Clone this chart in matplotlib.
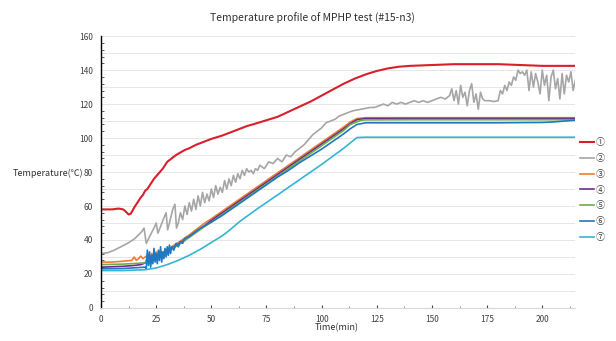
import numpy as np
import matplotlib.pyplot as plt
from matplotlib.ticker import MultipleLocator

plt.rcParams['font.family'] = ['Noto Sans CJK KR', 'DejaVu Sans']

# ① heater / evaporator (red)
t1 = [0, 5, 8, 10, 11, 12.5, 13.5, 15, 17, 18, 19, 20, 21, 22, 24, 26, 28, 30, 32, 34, 36, 38, 40,
      43, 46, 50, 55, 58, 62, 66, 70, 75, 80, 85, 90, 95, 100, 105, 110, 115, 120, 125, 130, 135,
      140, 150, 160, 170, 180, 190, 200, 210, 215]
T1 = [58, 58, 58.5, 58, 57, 55, 55.5, 59, 63, 65, 66.5, 69, 70, 72, 76, 79, 82, 86, 88, 90, 91.5, 93, 94,
      96, 97.5, 99.5, 101.5, 103, 105, 107, 108.5, 110.5, 112.5, 115.5, 118.5, 121.5, 125, 128.5, 132, 135,
      137.5, 139.5, 141, 142, 142.5, 143, 143.5, 143.5, 143.5, 143, 142.5, 142.5, 142.5]

# ② (gray, noisy)
t2 = [0, 3, 6, 9, 12, 15, 17, 18.5, 19.5, 20.5, 22, 24, 25, 25.8, 27, 28.5, 29.5, 30.2, 31, 32.5, 33.5,
      34.2, 35, 36, 37, 38, 39, 40, 41, 42, 43, 44, 45, 46, 47, 48, 49, 50, 51, 52, 53, 54, 55, 56, 57,
      58, 59, 60, 61, 62, 63, 64, 65, 66, 67, 68, 69, 70, 71, 72, 74, 76, 78, 80, 82, 84, 86, 88, 90,
      92, 94, 96, 98, 100, 102, 104, 106, 108, 110, 112, 114, 116, 118, 120, 122, 124, 126, 128, 130,
      132, 134, 136, 138, 140, 142, 144, 146, 148, 150, 152, 154, 156, 158, 159, 160, 161, 162, 163,
      164, 165, 166, 167, 168, 169, 170, 171, 172, 173, 174, 176, 178, 180, 181, 182, 183, 184, 185,
      186, 187, 188, 189, 190, 191, 192, 193, 194, 195, 196, 197, 198, 199, 200, 201, 202, 203, 204,
      205, 206, 207, 208, 209, 210, 211, 212, 213, 214, 215]
T2 = [32, 32.5, 34, 36, 38, 40.5, 43, 45, 47, 38, 42, 47, 50, 44, 48, 53, 56, 46, 50, 58, 61,
      47, 50, 56, 52, 60, 55, 62, 57, 64, 58, 66, 60, 68, 62, 67, 63, 70, 65, 72, 67, 71, 68, 75, 70,
      76, 72, 78, 74, 79, 76, 81, 78, 82, 80, 81, 79, 82, 81, 84, 82, 86, 85, 88, 86, 90, 89, 92, 94,
      96, 99, 102, 104, 106, 109, 110, 111, 113, 114, 115, 116, 116.5, 117, 117.5, 118, 118, 119, 120, 119,
      121, 120, 121, 120, 121, 122, 121, 122, 121, 122, 123, 124, 123, 125, 129, 122, 128, 120,
      131, 124, 127, 119, 128, 132, 121, 126, 117, 127, 123, 122, 122, 121.5, 122, 128, 126, 131,
      128, 133, 131, 136, 134, 140, 138, 139, 137, 140, 128, 139, 130, 138, 133, 126, 140, 131, 137,
      122, 136, 140, 129, 135, 123, 138, 126, 137, 133, 139, 128, 134]

# ③ (orange)
t3 = [0, 5, 10, 14, 15, 16, 17, 18, 19, 20, 21, 22, 23, 24, 25, 26, 27, 28, 29, 30, 32, 35, 40, 46.5,
      50, 55, 60, 65, 70, 75, 80, 85, 90, 95, 100, 105, 110, 113, 116, 120, 140, 160, 180, 200, 215]
T3 = [27, 27, 27.5, 28, 30, 28, 29, 30.5, 29, 30, 31, 29, 32, 30, 33, 31, 33.5, 32, 34, 34, 36, 38.5, 43,
      49.5, 52.5, 57, 61.5, 66, 70.5, 75, 79.5, 84, 88.5, 93, 97.5, 102, 106.5, 109.5, 111.5, 112, 112,
      112, 112, 112, 112]

# ④ (purple)
t4 = [0, 10, 15, 18, 20, 21, 22, 23, 24, 25, 27, 30, 35, 40, 46.5, 50, 55, 60, 65, 70, 75, 80, 85, 90,
      95, 100, 105, 110, 113, 116, 120, 140, 160, 180, 200, 215]
T4 = [24, 24.5, 25, 25.5, 26.5, 27, 28, 27.5, 29, 30, 31.5, 33.5, 37.5, 42, 48, 51.5, 56, 60.5, 65, 69.5,
      74, 78.5, 83, 87.5, 92, 96.5, 101, 105.5, 108.5, 110.8, 111.5, 111.5, 111.5, 111.5, 111.5, 111.5]

# ⑤ (green)
t5 = [0, 10, 20, 21, 22, 23, 24, 25, 26, 27, 28, 30, 35, 40, 46.5, 50, 55, 60, 65, 70, 75, 80, 85, 90,
      95, 100, 105, 110, 113, 118, 120, 140, 160, 180, 200, 215]
T5 = [25.5, 25.8, 26.5, 30, 27, 31, 28, 32, 29.5, 33, 30.5, 33, 37, 41.5, 47.5, 50.5, 55, 59.5, 64, 68.5,
      73, 77.5, 82, 86.5, 91, 95.5, 100, 104.5, 108, 110.5, 110.7, 110.8, 110.8, 110.8, 110.8, 110.8]

# ⑥ (dark blue, spiky near start-up)
t6 = [0, 10, 20, 20.5, 21, 21.5, 22, 22.5, 23, 23.5, 24, 24.5, 25, 25.5, 26, 26.5, 27, 27.5, 28, 28.5,
      29, 29.5, 30, 30.5, 31, 31.5, 32, 33, 34, 35, 36, 37, 38, 40, 42, 44, 46.5, 50, 55, 60, 65, 70,
      75, 80, 85, 90, 95, 100, 105, 110, 113, 116, 120, 140, 160, 180, 200, 205, 210, 215]
T6 = [23, 23.2, 24, 23, 34, 25, 33, 24, 31, 26, 35, 27, 32, 26, 34, 28, 36, 27, 33, 29,
      35, 30, 36, 31, 37, 32, 36, 34, 38, 36, 39, 38, 41, 42, 44, 46, 48, 50.5, 54.5, 59, 63.5, 68,
      72.5, 77, 81, 85.5, 89.5, 93.5, 98, 102.5, 105.5, 108, 109, 109, 109, 109, 109.2, 109.5, 110, 110.5]

# ⑦ (cyan)
t7 = [0, 10, 20, 25, 30, 35, 40, 45, 50, 55, 58, 63, 71, 80, 90, 100, 110, 116, 120, 140, 160, 180, 200, 215]
T7 = [22, 22, 22.5, 23.5, 25.5, 28, 31, 34.5, 38.5, 42.5, 45.5, 51, 58.5, 66.5, 75.5, 84.5, 94, 100.3,
      100.5, 100.5, 100.5, 100.5, 100.5, 100.5]

series = [(t1, T1), (t2, T2), (t3, T3), (t4, T4), (t5, T5), (t6, T6), (t7, T7)]
labels = ['①', '②', '③', '④', '⑤', '⑥', '⑦']
colors = ['#d9202a', '#a6a6a6', '#ed7d31', '#6a2c91', '#70ad47', '#1f78c1', '#36b4d6']
widths = [1.5, 1.2, 1.2, 1.2, 1.2, 1.2, 1.2]

fig = plt.figure(figsize=(6.16, 3.41), dpi=100)
ax = fig.add_axes([0.164, 0.097, 0.770, 0.797])

lines = []
for (t, T), lab, c, w in zip(series, labels, colors, widths):
    ln, = ax.plot(t, T, color=c, lw=w, label=lab)
    lines.append(ln)

ax.set_xlim(0, 215)
ax.set_ylim(0, 160)
ax.xaxis.set_major_locator(MultipleLocator(25))
ax.xaxis.set_minor_locator(MultipleLocator(12.5))
ax.yaxis.set_minor_locator(MultipleLocator(4))
ax.set_yticks(np.arange(0, 161, 10), minor=False)
ax.set_yticklabels([str(v) if v % 20 == 0 else '' for v in range(0, 161, 10)])
ax.grid(axis='y', which='major', color='#e6e6e6', lw=0.7)
ax.set_axisbelow(True)

for s in ['top', 'right']:
    ax.spines[s].set_visible(False)
ax.spines['bottom'].set_color('#d9d9d9')
ax.spines['left'].set_color('black')
ax.spines['left'].set_linewidth(1.0)
ax.tick_params(axis='both', which='both', labelsize=6, labelcolor='#404040', direction='in')
ax.tick_params(axis='y', which='major', length=0, pad=6)
ax.tick_params(axis='y', which='minor', length=2, color='#404040')
ax.tick_params(axis='x', which='major', length=2, color='#404040', pad=5)
ax.tick_params(axis='x', which='minor', length=1.5, color='#808080')

fig.text(0.508, 0.945, 'Temperature profile of MPHP test (#15-n3)', ha='center', va='center',
         fontsize=7.5, color='#303030')
fig.text(0.02, 0.493, 'Temperature(℃)', ha='left', va='center', fontsize=6.5, color='#303030')
fig.text(0.547, 0.040, 'Time(min)', ha='center', va='center', fontsize=6.5, color='#303030')

leg = fig.legend(handles=lines, labels=labels, loc='upper left', bbox_to_anchor=(0.935, 0.605),
                 frameon=False, fontsize=6.5, handlelength=1.6, handletextpad=0.2,
                 labelspacing=0.75, borderaxespad=0)
for txt in leg.get_texts():
    txt.set_color('#404040')

fig.savefig('out.png', dpi=100)
